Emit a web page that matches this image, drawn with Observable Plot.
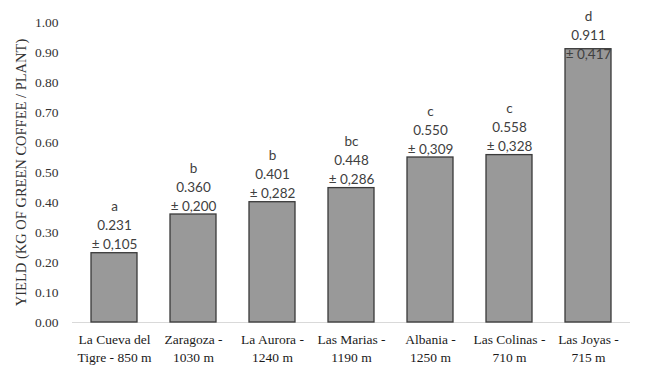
<!DOCTYPE html>
<html>
<head>
<meta charset="utf-8">
<script src="https://cdn.jsdelivr.net/npm/d3@7"></script>
<script src="https://cdn.jsdelivr.net/npm/@observablehq/plot@0.6"></script>
<style>
  body { margin: 0; background: #fff; }
</style>
</head>
<body>
<div id="chart"></div>
<script>
const sites = [
  "La Cueva del\nTigre - 850 m",
  "Zaragoza -\n1030 m",
  "La Aurora -\n1240 m",
  "Las Marias -\n1190 m",
  "Albania -\n1250 m",
  "Las Colinas -\n710 m",
  "Las Joyas -\n715 m"
];
const yields = [0.231, 0.360, 0.401, 0.448, 0.550, 0.558, 0.911];
const sds = ["0,105", "0,200", "0,282", "0,286", "0,309", "0,328", "0,417"];
const letters = ["a", "b", "b", "bc", "c", "c", "d"];
const yTicks = [0, 0.1, 0.2, 0.3, 0.4, 0.5, 0.6, 0.7, 0.8, 0.9, 1.0];
const yTitle = "YIELD (KG OF GREEN COFFEE / PLANT)";

const data = sites.map((s, i) => ({
  site: s, value: yields[i], sd: sds[i], letter: letters[i]
}));
const labelCap = 0.865; // labels clamp at top of plot area
const serif = "'Liberation Serif', 'Times New Roman', serif";

const chart = Plot.plot({
  width: 648,
  height: 378,
  marginLeft: 72,
  marginRight: 18,
  marginTop: 22,
  marginBottom: 56,
  style: { fontSize: "13px", background: "#fff" },
  x: { domain: sites, paddingInner: 0.42, paddingOuter: 0.21, label: null },
  y: { domain: [0, 1], label: null },
  marks: [
    Plot.ruleY([0], { stroke: "#d9d9d9", strokeWidth: 1 }),
    Plot.barY(data, { x: "site", y: "value", fill: "#999999", stroke: "#3a3a3a", strokeWidth: 1.3 }),
    Plot.text(data, {
      x: "site",
      y: d => Math.min(d.value, labelCap),
      text: d => `${d.letter}\n${d.value.toFixed(3)}\n± ${d.sd}`,
      lineAnchor: "bottom",
      lineHeight: 1.4,
      dy: -4,
      fontFamily: "Lato",
      fontSize: 13.5,
      fill: "#404040"
    }),
    Plot.axisX({ tickSize: 0, tickPadding: 9, lineHeight: 1.3, fontSize: 13.5, fontFamily: serif, fill: "#1a1a1a" }),
    Plot.axisY({ ticks: yTicks, tickFormat: d3.format(".2f"), tickSize: 0, tickPadding: 14, fontSize: 13.5, fontFamily: serif, fill: "#333", label: null }),
    Plot.axisY({ ticks: [], tickSize: 0, label: yTitle, labelAnchor: "center", labelArrow: "none", labelOffset: 57,
      fontSize: 14.5, fontFamily: serif, fill: "#333" })
  ]
});
document.getElementById("chart").appendChild(chart);
</script>
</body>
</html>
